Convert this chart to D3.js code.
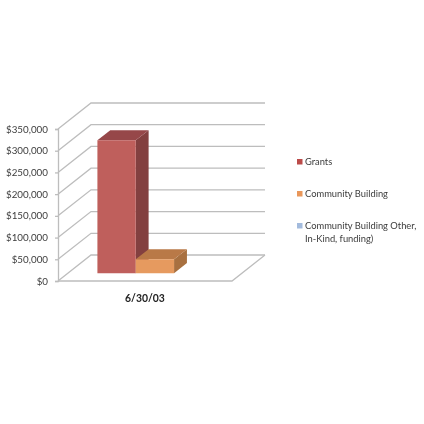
<!DOCTYPE html>
<html>
<head>
<meta charset="utf-8">
<script src="https://cdn.jsdelivr.net/npm/d3@7"></script>
<style>
body { margin: 0; background: #fff; }
text { font-family: Lato, "Open Sans", sans-serif; fill: #3c3c3c; }
.grid { fill: none; stroke: #bdbdbd; stroke-width: 1.3; }
</style>
</head>
<body>
<svg width="424" height="424"></svg>
<script>
var seriesNames = ["Grants", "Community Building", "Community Building Other,\nIn-Kind, funding)"];
var seriesValues = [306000, 32000, 0];
var categoryLabel = "6/30/03";
var tickValues = [0, 50000, 100000, 150000, 200000, 250000, 300000, 350000];

var frontColors = ["#bf5e5b", "#e69a5e", "#9db6da"];
var topColors = ["#96474a", "#b97947", "#7d92b0"];
var sideColors = ["#833f3f", "#a8703f", "#6d8098"];
var legendColors = ["#bb4b4a", "#e9975a", "#a3bbdd"];

var svg = d3.select("svg");
var g = svg.append("g").attr("filter", "url(#soft)");

svg.append("defs").append("filter")
  .attr("id", "soft")
  .append("feGaussianBlur")
  .attr("stdDeviation", 0.35);

var y = d3.scaleLinear().domain([0, 350000]).range([281, 129]);
var x = d3.scaleBand().domain(seriesNames).range([58, 232]).paddingInner(0).paddingOuter(0.77);
var depthX = d3.scaleLinear().domain([0, 1]).range([0, 33]);
var depthY = d3.scaleLinear().domain([0, 1]).range([0, -26]);

// 0 is the front plane of the box, 1 the back wall
function pt(px, value, depth) {
  return [px + depthX(depth), y(value) + depthY(depth)];
}

var line = d3.line();
var xEnd = x.range()[1], xStart = x.range()[0];

// gridlines on the side wall and back wall
g.selectAll(".grid")
  .data(tickValues)
  .enter()
  .append("path")
  .attr("class", "grid")
  .attr("d", function(d) {
    return line([pt(xStart, d, 0), pt(xStart, d, 1), pt(xEnd, d, 1)]);
  });

// floor
g.append("path")
  .attr("class", "grid")
  .attr("d", line([pt(xStart, 0, 0), pt(xEnd, 0, 0), pt(xEnd, 0, 1)]));

var yAxis = g.append("g")
  .attr("transform", "translate(" + xStart + ",0)")
  .call(d3.axisLeft(y).tickValues(tickValues).tickSize(3).tickFormat(d3.format("$,")));
yAxis.selectAll("path, line").attr("stroke", "#bdbdbd").attr("stroke-width", 1.3);
yAxis.selectAll("text").attr("font-size", 9.8).attr("x", -10).style("font-family", "Lato").style("fill", "#3c3c3c");

// bars, third series is zero and draws nothing
var barFront = 0.3, barBack = 0.69;
var bars = g.selectAll(".bar")
  .data(seriesNames.filter(function(d, i) { return seriesValues[i] > 0; }))
  .enter()
  .append("g")
  .attr("class", "bar");

function barPoints(d) {
  var i = seriesNames.indexOf(d);
  return { i: i, x0: x(d), x1: x(d) + x.bandwidth(), v: seriesValues[i] };
}

bars.append("path")
  .attr("fill", function(d) { return sideColors[barPoints(d).i]; })
  .attr("d", function(d) {
    var b = barPoints(d);
    return line([pt(b.x1, 0, barFront), pt(b.x1, 0, barBack), pt(b.x1, b.v, barBack), pt(b.x1, b.v, barFront)]) + "Z";
  });

bars.append("path")
  .attr("fill", function(d) { return topColors[barPoints(d).i]; })
  .attr("d", function(d) {
    var b = barPoints(d);
    return line([pt(b.x0, b.v, barFront), pt(b.x0, b.v, barBack), pt(b.x1, b.v, barBack), pt(b.x1, b.v, barFront)]) + "Z";
  });

bars.append("path")
  .attr("fill", function(d) { return frontColors[barPoints(d).i]; })
  .attr("d", function(d) {
    var b = barPoints(d);
    return line([pt(b.x0, 0, barFront), pt(b.x1, 0, barFront), pt(b.x1, b.v, barFront), pt(b.x0, b.v, barFront)]) + "Z";
  });

// category label
g.append("text")
  .attr("x", 145)
  .attr("y", 302)
  .attr("text-anchor", "middle")
  .attr("font-size", 10.4)
  .attr("font-weight", "bold")
  .style("fill", "#222")
  .text(categoryLabel);

// legend
var legendY = [162, 194, 226];
var legend = g.selectAll(".legend")
  .data(seriesNames)
  .enter()
  .append("g")
  .attr("class", "legend")
  .attr("transform", function(d, i) { return "translate(297," + legendY[i] + ")"; });

legend.append("rect")
  .attr("y", -3)
  .attr("width", 5.5)
  .attr("height", 5.5)
  .attr("fill", function(d, i) { return legendColors[i]; });

legend.selectAll("text")
  .data(function(d) { return d.split("\n"); })
  .enter()
  .append("text")
  .attr("x", 8)
  .attr("y", function(d, i) { return 3.3 + i * 13; })
  .attr("font-size", 9.35)
  .text(function(d) { return d; });
</script>
</body>
</html>
